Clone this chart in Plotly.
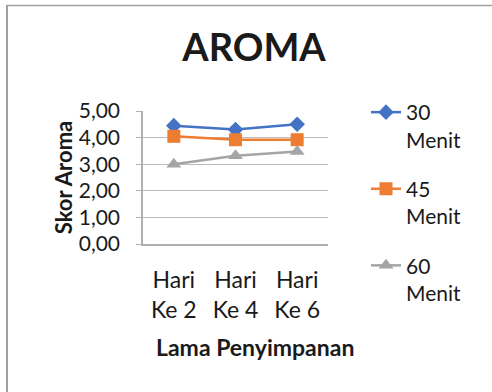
import plotly.graph_objects as go

categories = ["Hari<br>Ke 2", "Hari<br>Ke 4", "Hari<br>Ke 6"]
series_names = ["30<br>Menit", "45<br>Menit", "60<br>Menit"]
s30 = [4.45, 4.30, 4.50]
s45 = [4.05, 3.92, 3.92]
s60 = [3.00, 3.32, 3.48]
y_ticks = [0, 1, 2, 3, 4, 5]
x_title = "Lama Penyimpanan"

colors = ["#4472C4", "#ED7D31", "#A5A5A5"]
symbols = ["diamond", "square", "triangle-up"]
sizes = [12, 13, 13]
FONT = "Lato"
TXT = "#1a1a1a"

W, H = 492, 392
L, R, T, B = 143, 164, 111, 148
pw, ph = W - L - R, H - T - B

fig = go.Figure()
for name, vals, c, s, sz in zip(series_names, [s30, s45, s60], colors, symbols, sizes):
    fig.add_trace(go.Scatter(
        x=categories, y=vals, name=name, legendgroup=name, mode="lines+markers",
        line=dict(color=c, width=2.5),
        marker=dict(symbol=s, size=sz, color=c),
    ))

def px_x(p):
    return (p - L) / pw

def px_y(p):
    return (H - B - p) / ph

fig.update_layout(
    width=W, height=H,
    margin=dict(l=L, r=R, t=T, b=B),
    paper_bgcolor="white", plot_bgcolor="white",
    separators=",.",
    font=dict(family=FONT, size=21, color=TXT),
    title=dict(text="<b>AROMA</b>", x=254 / W, xanchor="center",
               y=1 - 48 / H, yanchor="middle",
               font=dict(family=FONT, size=38, color=TXT)),
    xaxis=dict(
        range=[-0.5, 2.5], showgrid=False, showline=True,
        linecolor="#B0B0B0", linewidth=1.5, ticks="",
        ticklabelstandoff=15,
        tickfont=dict(family=FONT, size=23, color=TXT),
    ),
    yaxis=dict(
        range=[0, 5], tickvals=y_ticks, tickformat=".2f",
        showgrid=True, gridcolor="#BDBDBD", gridwidth=1.2,
        showline=True, linecolor="#B0B0B0", linewidth=1.5,
        ticks="outside", ticklen=5, tickcolor="#B0B0B0",
        ticklabelstandoff=12,
        zeroline=False,
        tickfont=dict(family=FONT, size=21, color=TXT),
        title=dict(text="<b>Skor Aroma</b>", standoff=0,
                   font=dict(family=FONT, size=22, color=TXT)),
    ),
    legend=dict(
        x=px_x(366), xanchor="left", y=px_y(92), yanchor="top",
        valign="top", tracegroupgap=19, maxheight=300,
        font=dict(family=FONT, size=21, color=TXT),
        bgcolor="rgba(0,0,0,0)",
    ),
    showlegend=True,
)

# x-axis title, centred on the chart like the reference
fig.add_annotation(text="<b>" + x_title + "</b>", xref="paper", yref="paper",
                   x=px_x(255), y=px_y(347), xanchor="center", yanchor="middle",
                   showarrow=False, font=dict(family=FONT, size=23, color=TXT))

# chart frame (left and top edges)
fig.add_shape(type="line", xref="paper", yref="paper",
              x0=px_x(7), x1=px_x(7), y0=px_y(H + 5), y1=px_y(5),
              line=dict(color="#A0A0A0", width=2))
fig.add_shape(type="line", xref="paper", yref="paper",
              x0=px_x(7), x1=px_x(W + 5), y0=px_y(5.5), y1=px_y(5.5),
              line=dict(color="#A0A0A0", width=1.5))

fig.write_html("out.html", config={"displayModeBar": False},
               post_script="document.body.style.margin='0px';")
